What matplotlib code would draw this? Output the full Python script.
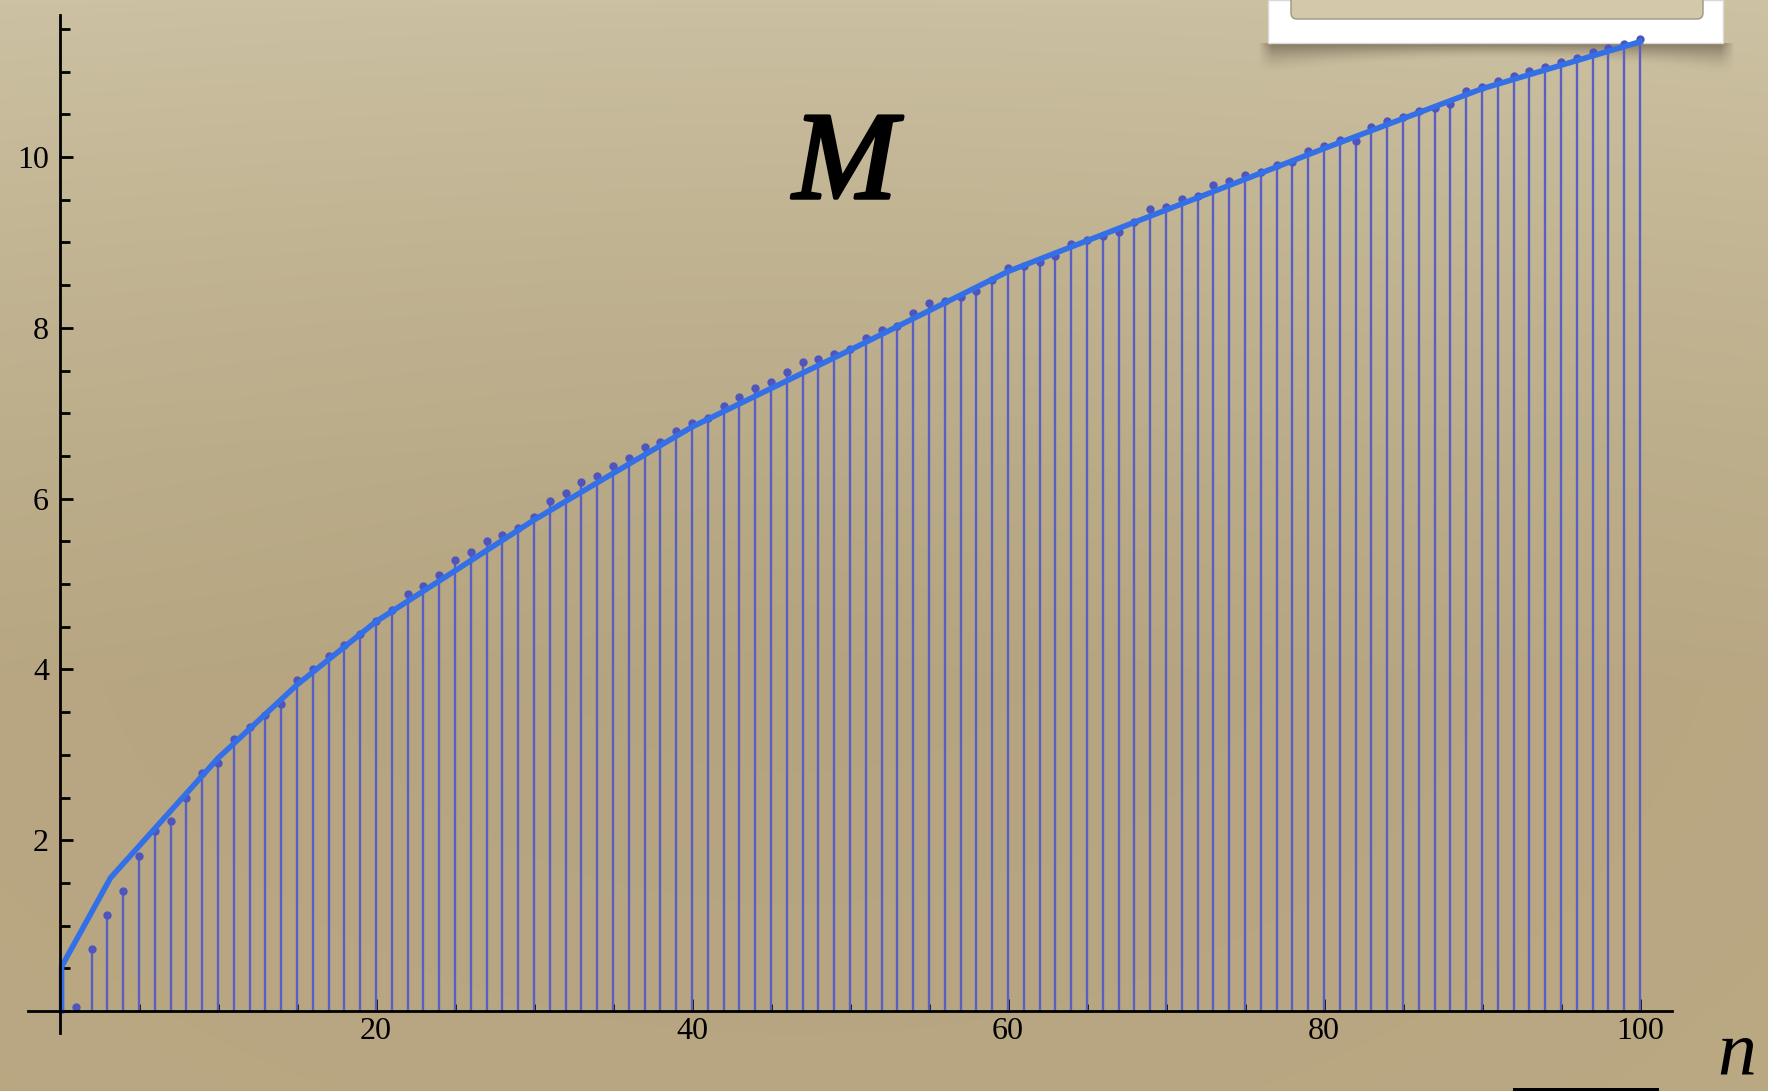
import numpy as np
import matplotlib.pyplot as plt
import matplotlib.patheffects as pe
from matplotlib.patches import Rectangle, FancyBboxPatch
from matplotlib.ticker import MultipleLocator, FixedLocator

# Valores
n = np.arange(1, 101)
M = [0.05, 0.73, 1.13, 1.41, 1.81, 2.11, 2.22, 2.50, 2.79, 2.91,
     3.19, 3.32, 3.47, 3.59, 3.88, 4.00, 4.16, 4.29, 4.41, 4.57,
     4.70, 4.88, 4.98, 5.10, 5.28, 5.37, 5.50, 5.57, 5.66, 5.79,
     5.97, 6.07, 6.19, 6.26, 6.38, 6.47, 6.60, 6.66, 6.79, 6.88,
     6.95, 7.08, 7.19, 7.29, 7.36, 7.48, 7.60, 7.64, 7.69, 7.75,
     7.88, 7.98, 8.02, 8.17, 8.29, 8.32, 8.36, 8.43, 8.56, 8.70,
     8.72, 8.77, 8.84, 8.98, 9.03, 9.08, 9.12, 9.24, 9.39, 9.41,
     9.51, 9.54, 9.67, 9.72, 9.79, 9.82, 9.91, 9.94, 10.07, 10.13,
     10.20, 10.19, 10.35, 10.42, 10.47, 10.54, 10.58, 10.62, 10.77, 10.82,
     10.89, 10.95, 11.01, 11.05, 11.11, 11.16, 11.23, 11.28, 11.32, 11.38]

# Curva continua (polilínea)
curva_n = [0.1, 0.1, 3.2, 10, 15, 20, 30, 40, 50, 60, 70, 80, 90, 100]
curva_M = [0.0, 0.52, 1.56, 2.96, 3.82, 4.56, 5.75, 6.84, 7.74, 8.66, 9.38, 10.1, 10.8, 11.35]

x_ticks = [20, 40, 60, 80, 100]
y_ticks = [2, 4, 6, 8, 10]

W, H = 1768, 1091
fig = plt.figure(figsize=(W / 100, H / 100), dpi=100)

# Fondo tipo papel (degradado), en coordenadas de píxel
bg = fig.add_axes([0, 0, 1, 1], zorder=-10)
yy, xx = np.mgrid[0:1:300j, 0:1:500j]
top = np.array([201, 191, 161]) / 255
low = np.array([183, 166, 129]) / 255
t = np.clip(yy * 1.6, 0, 1) ** 0.8
img = top[None, None, :] * (1 - t[..., None]) + low[None, None, :] * t[..., None]
r = np.sqrt((xx - 0.45) ** 2 + (yy - 0.55) ** 2)
img = img * (1 + 0.05 * (r[..., None] - 0.4))
img = np.clip(img, 0, 1)
bg.imshow(img, aspect='auto', extent=[0, W, H, 0], interpolation='bicubic')
bg.set_xlim(0, W)
bg.set_ylim(H, 0)
bg.axis('off')

# Sombra curvada bajo el recuadro
sy, sx = np.mgrid[43:90:60j, 1255:1740:400j]
prof = 16 + 16 * ((sx - 1495) / 230) ** 2
a = np.clip(1 - (sy - 43) / prof, 0, 1) ** 1.6
edge = np.clip((sx - 1258) / 14, 0, 1) * np.clip((1735 - sx) / 14, 0, 1)
sh = np.zeros(sy.shape + (4,))
sh[..., :3] = np.array([60, 50, 35]) / 255
sh[..., 3] = 0.5 * a * edge
bg.imshow(sh, extent=[1255, 1740, 90, 43], aspect='auto', interpolation='bilinear', zorder=1)

# Recuadro blanco arriba a la derecha
bg.add_patch(Rectangle((1268, 0), 1723 - 1268, 43,
                       facecolor='white', edgecolor='#d8d8d8', lw=1, zorder=2))
bg.add_patch(FancyBboxPatch((1291, -10), 1703 - 1291, 29,
                            boxstyle='round,pad=0,rounding_size=6',
                            facecolor='#d3c8aa', edgecolor='#9d9585', lw=1, zorder=3))
# Barra negra abajo
bg.add_patch(Rectangle((1513, 1088), 1659 - 1513, 10,
                       facecolor='black', edgecolor='none', zorder=2))
bg.set_xlim(0, W)
bg.set_ylim(H, 0)

ax = fig.add_axes([28.4 / W, 1 - 1033.2 / H, 1643.2 / W, 1017.9 / H])
ax.patch.set_alpha(0)
ax.set_xlim(-2, 102)
ax.set_ylim(-0.26, 11.66)

ax.vlines(n, 0, M, colors='#5a5fc4', lw=1.7, zorder=2)
ax.plot(n, M, 'o', color='#4f55bc', ms=6, mec='none', zorder=3)
ax.plot(curva_n, curva_M, color='#336fe6', lw=4, solid_joinstyle='miter', zorder=4)

for s in ['top', 'right']:
    ax.spines[s].set_visible(False)
ax.spines['left'].set_position(('data', 0))
ax.spines['bottom'].set_position(('data', 0))
for s in ['left', 'bottom']:
    ax.spines[s].set_linewidth(2)
    ax.spines[s].set_zorder(5)

ax.xaxis.set_major_locator(FixedLocator(x_ticks))
ax.xaxis.set_minor_locator(MultipleLocator(5))
ax.yaxis.set_major_locator(FixedLocator(y_ticks))
ax.yaxis.set_minor_locator(MultipleLocator(0.5))
ax.tick_params(which='both', direction='in', width=2, color='black',
               labelsize=23, labelfontfamily='Liberation Serif')
ax.tick_params(axis='x', which='major', length=9, pad=4)
ax.tick_params(axis='x', which='minor', length=5)
ax.tick_params(axis='y', which='major', length=9, pad=8)
ax.tick_params(axis='y', which='minor', length=7)

fig.text(845 / W, 1 - 198 / H, 'M', fontsize=90, family='Liberation Serif',
         style='italic', ha='center', va='baseline',
         path_effects=[pe.withStroke(linewidth=2.5, foreground='black')])
fig.text(1737 / W, 1 - 1074 / H, 'n', fontsize=56, family='Liberation Serif',
         style='italic', ha='center', va='baseline')

fig.savefig('out.png', dpi=100)
